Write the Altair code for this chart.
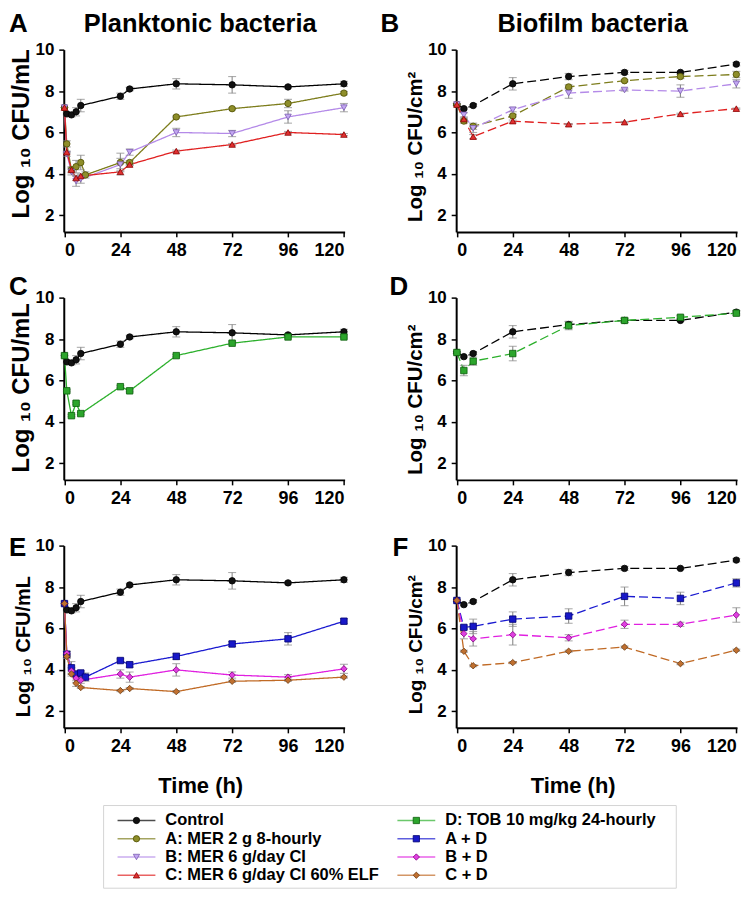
import altair as alt
import pandas as pd

FONT = "Liberation Sans"

# ---------------- data ----------------
SERIES = ["Control", "A: MER 2 g 8-hourly", "B: MER 6 g/day CI",
          "C: MER 6 g/day CI 60% ELF", "D: TOB 10 mg/kg 24-hourly",
          "A + D", "B + D", "C + D"]
LINE_COLORS = ["#000000", "#7d7d1c", "#b48ae8", "#e02020", "#2cb02c",
               "#1a1ad0", "#e020e0", "#c06a25"]
FILL_COLORS = ["#111111", "#8e8e2a", "#c2a6f2", "#e03030", "#2ca52c",
               "#1818c8", "#e040e0", "#c07030"]
STROKE_COLORS = ["#000000", "#4d4d00", "#7a5cb0", "#8b0000", "#0b5e0b",
                 "#000070", "#800080", "#6b3a10"]
SHAPES = ["circle", "circle", "triangle-down", "triangle-up", "square",
          "square", "diamond", "diamond"]

T_PLANK = [0, 1, 3, 5, 7, 24, 28, 48, 72, 96, 120]
T_PLANK9 = [0, 1, 3, 5, 7, 9, 24, 28, 48, 72, 96, 120]
T_BIO = [0, 3, 7, 24, 48, 72, 96, 120]

# planktonic (log10 CFU/mL)
ctrl_p = [7.2, 6.9, 6.85, 7.0, 7.3, 7.75, 8.1, 8.35, 8.3, 8.2, 8.35]
ctrl_p_err = [0, 0.05, 0.1, 0.2, 0.3, 0.15, 0.08, 0.25, 0.4, 0.06, 0.12]
a_p = [7.2, 5.45, 4.2, 4.35, 4.55, 3.95, 4.55, 4.55, 6.75, 7.15, 7.4, 7.9]
a_p_err = [0, 0.15, 0.15, 0.3, 0.35, 0.15, 0.45, 0.1, 0.05, 0.05, 0.2, 0.08]
b_p = [7.2, 4.95, 4.1, 3.65, 3.75, 4.45, 5.05, 6.0, 5.95, 6.75, 7.2]
b_p_err = [0, 0.1, 0.15, 0.25, 0.2, 0.3, 0.15, 0.2, 0.15, 0.3, 0.2]
c_p = [7.2, 5.05, 4.2, 3.8, 3.9, 4.1, 4.45, 5.1, 5.42, 6.0, 5.9]
c_p_err = [0, 0.05, 0.1, 0.1, 0.1, 0.15, 0.05, 0.05, 0.05, 0.05, 0.05]
d_p = [7.2, 5.5, 4.3, 4.9, 4.4, 5.7, 5.5, 7.2, 7.8, 8.1, 8.1]
d_p_err = [0, 0.05, 0.05, 0.05, 0.05, 0.05, 0.05, 0.05, 0.05, 0.05, 0.05]
ad_p = [7.2, 4.75, 4.1, 3.8, 3.85, 3.65, 4.45, 4.25, 4.65, 5.25, 5.5, 6.35]
ad_p_err = [0, 0.15, 0.3, 0.1, 0.1, 0.2, 0.08, 0.12, 0.15, 0.12, 0.3, 0.12]
bd_p = [7.2, 4.8, 3.95, 3.6, 3.5, 3.8, 3.65, 4.0, 3.75, 3.65, 4.05]
bd_p_err = [0, 0.1, 0.15, 0.2, 0.15, 0.2, 0.25, 0.3, 0.15, 0.12, 0.22]
cd_p = [7.2, 4.65, 3.8, 3.35, 3.15, 3.0, 3.1, 2.95, 3.45, 3.5, 3.65]
cd_p_err = [0, 0.1, 0.1, 0.15, 0.05, 0.05, 0.05, 0.05, 0.05, 0.05, 0.05]

# biofilm (log10 CFU/cm2)
ctrl_b = [7.35, 7.15, 7.3, 8.35, 8.7, 8.9, 8.9, 9.3]
ctrl_b_err = [0.05, 0.05, 0.05, 0.3, 0.15, 0.1, 0.05, 0.08]
a_b = [7.35, 6.55, 6.3, 6.8, 8.2, 8.5, 8.7, 8.8]
a_b_err = [0.05, 0.1, 0.15, 0.05, 0.1, 0.05, 0.1, 0.15]
b_b = [7.35, 6.85, 6.2, 7.1, 7.9, 8.05, 8.0, 8.35]
b_b_err = [0, 0.1, 0.2, 0.1, 0.25, 0.05, 0.3, 0.2]
c_b = [7.35, 6.65, 5.8, 6.55, 6.4, 6.5, 6.9, 7.15]
c_b_err = [0, 0.05, 0.1, 0.05, 0.03, 0.03, 0.03, 0.03]
d_b = [7.35, 6.48, 6.93, 7.3, 8.65, 8.9, 9.05, 9.25]
d_b_err = [0.05, 0.25, 0.2, 0.35, 0.2, 0.1, 0.08, 0.1]
ad_b = [7.35, 6.05, 6.1, 6.45, 6.6, 7.55, 7.45, 8.2]
ad_b_err = [0, 0.1, 0.35, 0.35, 0.35, 0.45, 0.3, 0.2]
bd_b = [7.35, 5.75, 5.5, 5.7, 5.55, 6.2, 6.2, 6.65]
bd_b_err = [0, 0.25, 0.35, 0.5, 0.15, 0.2, 0.1, 0.35]
cd_b = [7.35, 4.9, 4.2, 4.35, 4.9, 5.1, 4.3, 4.95]
cd_b_err = [0, 0.05, 0.05, 0.05, 0.05, 0.05, 0.05, 0.05]

X_TICKS = [0, 24, 48, 72, 96, 120]
Y_TICKS = [2, 4, 6, 8, 10]

W, H = 282, 183


def frame(items):
    rows = []
    for name, ts, vs, es in items:
        for t, v, e in zip(ts, vs, es):
            rows.append({"series": name, "t": t, "v": v, "err": e,
                         "lo": v - e, "hi": v + e})
    return pd.DataFrame(rows)


def panel(items, dashed, letter, lx, ly, ytitle, yt_size, yt_y,
          heading=None, xtitle=None, xtitle_x=None):
    df = frame(items)
    xaxis = dict(values=X_TICKS, labelFontSize=18, title=None)
    if xtitle:
        xaxis.update(title=xtitle, titleFontSize=22, titlePadding=20,
                     titleX=xtitle_x)
    xenc = alt.X("t:Q", scale=alt.Scale(domain=[-0.3, 120.3], nice=False,
                                        zero=False), axis=alt.Axis(**xaxis))
    yenc = alt.Y("v:Q", scale=alt.Scale(domain=[1.2, 10], nice=False,
                                        zero=False),
                 axis=alt.Axis(values=Y_TICKS, labelFontSize=17,
                               title=ytitle, titleFontSize=yt_size,
                               titleY=yt_y, titlePadding=2))
    base = alt.Chart(df)
    color = alt.Color("series:N", scale=alt.Scale(domain=SERIES,
                                                   range=LINE_COLORS),
                      legend=None)
    line = base.mark_line(strokeWidth=1.3,
                          strokeDash=[9, 4] if dashed else [1, 0]).encode(
        x=xenc, y=yenc, color=color, detail="series:N")
    eb = base.transform_filter("datum.err > 0")
    rule = eb.mark_rule(color="#8a8a8a", strokeWidth=1.1).encode(
        x="t:Q", y="lo:Q", y2="hi:Q")
    cap1 = eb.mark_tick(orient="horizontal", size=8, thickness=1.1,
                        color="#8a8a8a").encode(x="t:Q", y="lo:Q")
    cap2 = eb.mark_tick(orient="horizontal", size=8, thickness=1.1,
                        color="#8a8a8a").encode(x="t:Q", y="hi:Q")
    pts = base.mark_point(filled=True, size=42, strokeWidth=0.8,
                          opacity=1).encode(
        x="t:Q", y="v:Q",
        fill=alt.Fill("series:N", scale=alt.Scale(domain=SERIES,
                                                   range=FILL_COLORS),
                      legend=None),
        stroke=alt.Stroke("series:N", scale=alt.Scale(domain=SERIES,
                                                       range=STROKE_COLORS),
                          legend=None),
        shape=alt.Shape("series:N", scale=alt.Scale(domain=SERIES,
                                                     range=SHAPES),
                        legend=None))
    layers = [line, rule, cap1, cap2, pts]
    lab = alt.Chart(pd.DataFrame({"txt": [letter]})).mark_text(
        font=FONT, fontWeight="bold", fontSize=26, align="left",
        baseline="alphabetic", color="black").encode(
        text="txt:N", x=alt.value(lx), y=alt.value(ly))
    layers.append(lab)
    if heading:
        hd = alt.Chart(pd.DataFrame({"txt": [heading]})).mark_text(
            font=FONT, fontWeight="bold", fontSize=25.5, align="center",
            baseline="alphabetic", color="black").encode(
            text="txt:N", x=alt.value(137), y=alt.value(-18))
        layers.append(hd)
    return alt.layer(*layers).properties(width=W, height=H)


YT_P = "Log \u2081\u2080 CFU/mL"
YT_B = "Log \u2081\u2080 CFU/cm\u00b2"

pA = panel([(SERIES[0], T_PLANK, ctrl_p, ctrl_p_err),
            (SERIES[1], T_PLANK9, a_p, a_p_err),
            (SERIES[2], T_PLANK, b_p, b_p_err),
            (SERIES[3], T_PLANK, c_p, c_p_err)],
           False, "A", -55, -18, YT_P, 24, 84,
           heading="Planktonic bacteria")
pB = panel([(SERIES[0], T_BIO, ctrl_b, ctrl_b_err),
            (SERIES[1], T_BIO, a_b, a_b_err),
            (SERIES[2], T_BIO, b_b, b_b_err),
            (SERIES[3], T_BIO, c_b, c_b_err)],
           True, "B", -76, -18, YT_B, 20.5, 97,
           heading="Biofilm bacteria")
pC = panel([(SERIES[0], T_PLANK, ctrl_p, ctrl_p_err),
            (SERIES[4], T_PLANK, d_p, d_p_err)],
           False, "C", -55, -3, YT_P, 24, 90)
pD = panel([(SERIES[0], T_BIO, ctrl_b, ctrl_b_err),
            (SERIES[4], T_BIO, d_b, d_b_err)],
           True, "D", -67, -3, YT_B, 20.5, 102)
pE = panel([(SERIES[0], T_PLANK, ctrl_p, ctrl_p_err),
            (SERIES[5], T_PLANK9, ad_p, ad_p_err),
            (SERIES[6], T_PLANK, bd_p, bd_p_err),
            (SERIES[7], T_PLANK, cd_p, cd_p_err)],
           False, "E", -55, 10, YT_P, 20, 101,
           xtitle="Time (h)", xtitle_x=137)
pF = panel([(SERIES[0], T_BIO, ctrl_b, ctrl_b_err),
            (SERIES[5], T_BIO, ad_b, ad_b_err),
            (SERIES[6], T_BIO, bd_b, bd_b_err),
            (SERIES[7], T_BIO, cd_b, cd_b_err)],
           True, "F", -64, 10, YT_B, 19, 99,
           xtitle="Time (h)", xtitle_x=117)

# ---------------- legend ----------------
LEG_COL = [0, 0, 0, 0, 1, 1, 1, 1]
LEG_ROW = [0, 1, 2, 3, 0, 1, 2, 3]
leg_df = pd.DataFrame({"series": SERIES, "col": LEG_COL, "row": LEG_ROW})
lx = alt.X("col:Q", scale=alt.Scale(domain=[0, 1], range=[73, 354]),
           axis=None)
ly = alt.Y("row:Q", scale=alt.Scale(domain=[0, 3], range=[27, 82]),
           axis=None)
lbase = alt.Chart(leg_df)
box = alt.Chart(pd.DataFrame({"a": [0]})).mark_rect(
    filled=False, stroke="#d4d4d4", strokeWidth=1).encode(
    x=alt.value(40), x2=alt.value(615), y=alt.value(12), y2=alt.value(95))
ltick = lbase.mark_tick(orient="horizontal", size=38, thickness=1.3).encode(
    x=lx, y=ly,
    color=alt.Color("series:N", scale=alt.Scale(domain=SERIES,
                                                 range=LINE_COLORS),
                    legend=None))
lpts = lbase.mark_point(filled=True, size=40, strokeWidth=0.8,
                        opacity=1).encode(
    x=lx, y=ly,
    fill=alt.Fill("series:N", scale=alt.Scale(domain=SERIES,
                                               range=FILL_COLORS),
                  legend=None),
    stroke=alt.Stroke("series:N", scale=alt.Scale(domain=SERIES,
                                                   range=STROKE_COLORS),
                      legend=None),
    shape=alt.Shape("series:N", scale=alt.Scale(domain=SERIES,
                                                 range=SHAPES),
                    legend=None))
ltext = lbase.mark_text(align="left", baseline="middle", dx=29, font=FONT,
                        fontWeight="bold", fontSize=16.5,
                        color="black").encode(x=lx, y=ly, text="series:N")
legend = alt.layer(box, ltick, lpts, ltext).properties(width=W, height=1)

chart = alt.concat(pA, pB, pC, pD, pE, pF, legend, columns=2,
                   spacing={"row": 66, "column": 112},
                   bounds="flush").properties(
    padding={"left": 0, "top": 0, "right": 0, "bottom": 0}
).configure_view(stroke="transparent").configure_axis(
    grid=False, domainColor="black", domainWidth=2, tickColor="black",
    tickSize=5, tickWidth=1.5, labelFont=FONT, labelFontWeight="bold",
    labelColor="black", labelPadding=5, titleFont=FONT,
    titleFontWeight="bold", titleColor="black"
).configure_axisX(labelFontSize=18).configure_axisY(labelFontSize=17)

chart.save("out.html", embed_options={"renderer": "svg", "actions": False})
